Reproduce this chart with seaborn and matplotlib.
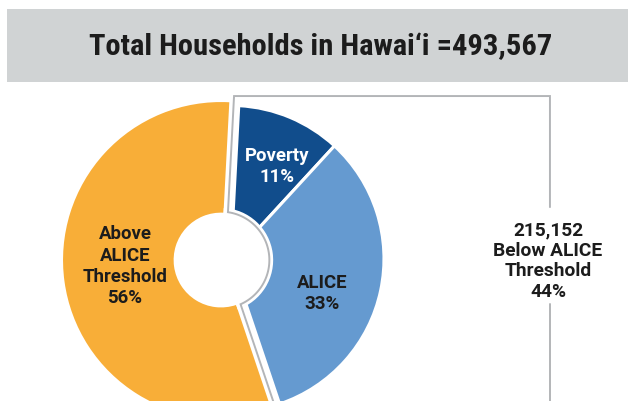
import numpy as np
import matplotlib
matplotlib.use("Agg")
import matplotlib.pyplot as plt
import seaborn as sns
from matplotlib import font_manager
from matplotlib.patches import Rectangle, Wedge

# data
categories = ["Poverty", "ALICE", "Above ALICE\nThreshold"]
shares = [11, 33, 56]
total_households = "493,567"
below_alice_count = "215,152"
below_alice_share = 44

colors = ["#114d8c", "#659ad0", "#f8ae38"]
line_grey = "#b3b5b8"

sns.set_style("white")
plt.rcParams["font.family"] = ["Roboto", "DejaVu Sans"]

# a narrow bold face for the banner if there is one
names = {f.name for f in font_manager.fontManager.ttflist}
title_font = "Roboto"
for cand in ["Liberation Sans Narrow", "Roboto Condensed", "DejaVu Sans Condensed"]:
    if cand in names:
        title_font = cand
        break

fig = plt.figure(figsize=(6.28, 4.02), dpi=100)
ax = fig.add_axes([0, 0, 1, 1])

# title banner
fig.patches.append(Rectangle((7 / 628, 1 - 83 / 402), 1 - 7 / 628, 73 / 402,
                             transform=fig.transFigure, facecolor="#d0d3d4",
                             edgecolor="none", zorder=0))
title = fig.text(321 / 628, 1 - 47 / 402, "Total Households in Hawai\u2018i =" + total_households,
                 ha="center", va="center", fontsize=20, fontweight="bold",
                 family=[title_font, "DejaVu Sans"], color="#1c1c1c")
# fit the banner text to the width it takes in the original (about 463 px)
r = fig.canvas.get_renderer()
w = title.get_window_extent(r).width
title.set_fontsize(20 * 463 / w)

start = 87
hole = 0.30
group_span = 360 * (shares[0] + shares[1]) / sum(shares)
a_top = start
a_bot = start - group_span
mid = np.deg2rad((a_top + a_bot) / 2)
shift = 0.062
cx, cy = shift * np.cos(mid), shift * np.sin(mid)

# above ALICE slice at the centre
w_all, _ = ax.pie(shares, startangle=start, counterclock=False, radius=1,
                  colors=colors, wedgeprops=dict(width=1 - hole, linewidth=0))
w_all[0].set_visible(False)
w_all[1].set_visible(False)
# below ALICE slices pulled out as one group
w_grp, _ = ax.pie(shares, startangle=start, counterclock=False, radius=0.97, center=(cx, cy),
                  colors=colors, wedgeprops=dict(width=0.72, edgecolor="white", linewidth=2.2))
w_grp[2].set_visible(False)
ax.set_xlim(-1.399, 2.576)
ax.set_ylim(-0.892, 1.652)
ax.set_aspect("equal")
ax.axis("off")
ax.add_patch(Wedge((0, 0), hole + 0.03, a_bot, a_top, facecolor="white",
                   edgecolor="none", zorder=3))

# grey outline round the below ALICE group, then the bracket
d = 0.028
rh = hole + 0.006
y_bracket = 1.038
x_bracket = 2.082
t1 = np.deg2rad(a_top)
u1 = np.array([np.cos(t1), np.sin(t1)])
n1 = np.array([np.sin(t1), -np.cos(t1)])
t2 = np.deg2rad(a_bot)
u2 = np.array([np.cos(t2), np.sin(t2)])
n2 = np.array([-np.sin(t2), np.cos(t2)])
t0 = np.sqrt(rh ** 2 - d ** 2)
top_t = (y_bracket - d * n1[1]) / u1[1]
p_top = d * n1 + top_t * u1
p_in1 = d * n1 + t0 * u1
p_in2 = d * n2 + t0 * u2
p_out2 = d * n2 + 1.3 * u2
ang1 = np.arctan2(p_in1[1], p_in1[0])
ang2 = np.arctan2(p_in2[1], p_in2[0])
arc = np.linspace(ang1, ang2, 60)
xs = [x_bracket, x_bracket, p_top[0], p_in1[0]] + list(rh * np.cos(arc)) + [p_out2[0]]
ys = [0.335, y_bracket, y_bracket, p_in1[1]] + list(rh * np.sin(arc)) + [p_out2[1]]
ax.plot(xs, ys, color=line_grey, lw=1.4, zorder=4, solid_joinstyle="miter")
ax.plot([x_bracket, x_bracket], [-0.278, -0.95], color=line_grey, lw=1.4, zorder=4)

# slice labels
lab = dict(ha="center", va="center", fontsize=13.4, fontweight="bold", linespacing=1.22, zorder=5)
ax.text(0.354, 0.601, f"{categories[0]}\n{shares[0]}%", color="white", **lab)
ax.text(0.639, -0.203, f"{categories[1]}\n{shares[1]}%", color="#1c1c1c", **lab)
ax.text(-0.608, -0.032, f"Above\nALICE\nThreshold\n{shares[2]}%", color="#1c1c1c", **lab)
ax.text(2.07, 0.0, f"{below_alice_count}\nBelow ALICE\nThreshold\n{below_alice_share}%",
        ha="center", va="center", fontsize=13.8, fontweight="bold", linespacing=1.18,
        color="#1c1c1c", zorder=5)

fig.savefig("out.png", dpi=100)
